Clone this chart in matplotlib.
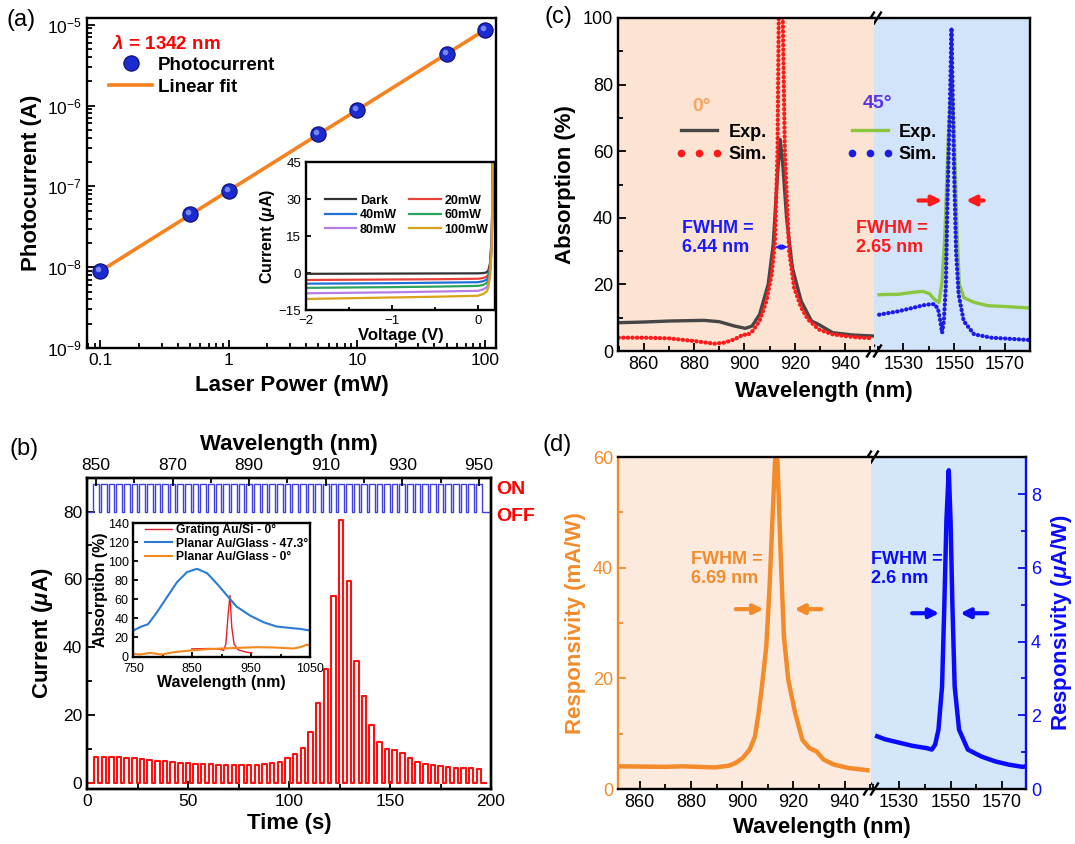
import numpy as np
import matplotlib
matplotlib.use("Agg")
import matplotlib.pyplot as plt
from matplotlib.lines import Line2D
from matplotlib.ticker import MultipleLocator, LogLocator, NullFormatter
from matplotlib.transforms import offset_copy

plt.rcParams["font.family"]=["Liberation Sans","DejaVu Sans"]
plt.rcParams["mathtext.fontset"]="custom"
plt.rcParams["mathtext.rm"]="Liberation Sans"
plt.rcParams["mathtext.it"]="Liberation Sans:italic:bold"
plt.rcParams["mathtext.bf"]="Liberation Sans:bold"
plt.rcParams["axes.linewidth"]=1.7

W,H=1075,844

# ---------------- (a) power dependence at 1342 nm ----------------
power_mw=[0.1,0.5,1,5,10,50,100]
photocurrent_a=[9.0e-9,4.5e-8,8.7e-8,4.4e-7,8.7e-7,4.4e-6,8.7e-6]

# inset I-V curves
iv_voltage=[-2.0,-1.0,-0.5,0.0,0.06,0.10,0.12,0.14,0.16,0.18]
iv_dark=[-0.3,-0.2,-0.15,-0.1,0.0,0.3,1.0,4.0,15,60]
iv_20=[-2.8,-2.6,-2.5,-2.3,-2.0,-1.5,-0.6,2.8,14,60]
iv_40=[-4.3,-4.1,-3.9,-3.7,-3.3,-2.7,-1.8,1.8,13,60]
iv_60=[-6.0,-5.7,-5.5,-5.2,-4.8,-4.1,-3.0,0.8,12,60]
iv_80=[-8.2,-7.8,-7.5,-7.2,-6.6,-5.8,-4.5,-0.5,11,60]
iv_100=[-10.5,-9.9,-9.6,-9.2,-8.5,-7.5,-6.0,-1.5,10,60]
iv_labels=["Dark","20mW","40mW","60mW","80mW","100mW"]

# ---------------- (b) wavelength scan ----------------
pulse_wl=np.arange(850,951,2)
pulse_amp=[7.7,7.7,7.7,7.6,7.4,7.2,7.0,6.8,6.6,6.4,6.2,6.0,5.8,5.7,5.6,5.5,5.4,5.3,5.3,5.3,
           5.3,5.4,5.6,5.9,6.2,7.2,8.4,10.3,15.0,23.5,33.5,55.0,77.5,59.5,36.0,25.5,17.0,12.2,10.1,9.6,
           8.8,7.2,6.2,5.7,5.2,4.9,4.6,4.5,4.4,4.3,4.2]
laser_on=88.0
laser_off=80.0
scan_t0=4.5      # time of the 850 nm step (s)
scan_rate=1.895  # s per nm

# inset absorption spectra
grating_wl=[849,880,897,903,907,911,914,917,921,928,942,951]
grating_abs=[8.0,8.4,7.7,6.3,13,45,64,31,13,7.0,4.5,3.8]
glass47_wl=[750,761,775,790,807,824,841,858,875,892,909,925,948,971,993,1016,1033,1050]
glass47_abs=[27.3,30.8,34,46.5,62.3,78,88.6,92,87.5,76.3,64,52.5,43,36,31.5,30,29,27.3]
glass0_wl=[750,761,778,798,818,846,875,914,959,988,1022,1033,1044,1050]
glass0_abs=[2.8,2.1,3.8,2.1,4.5,6.3,7.7,8.75,9.8,9.5,8.4,9.8,12.3,12.0]

# ---------------- (c) absorption ----------------
exp0_wl=[850,860,870,884,890,896,900.4,903,906,909.4,911.4,913.1,914.2,915.3,916.7,919,922.5,926.6,929.4,935,943,951]
exp0_abs=[8.5,8.7,9.0,9.2,8.8,7.5,6.8,7.5,11,20,32,53,63.5,55,40,25,15,9.0,8.0,5.5,4.8,4.5]
sim0_wl=[850,860,870,880,888,892,896,899.7,901,903.2,906,908.7,910.8,912.1,913.1,913.6,914.4,915.2,916,
         917.7,919.7,922.5,925.2,929.4,935,943,951]
sim0_abs=[4.0,4.0,3.8,3.0,2.2,2.5,3.5,5.0,4.7,6.0,9.0,15,23,33,60,100,150,100,60,30,19,13,9.5,6.5,5.0,4.2,3.8]
exp45_wl=[1520.4,1524,1527.8,1533.4,1537.5,1540.2,1542.2,1544.0,1545.2,1546.3,1547.7,1549.0,1550.0,
          1551.1,1552.0,1553.8,1557.8,1563.3,1571.5,1579.5]
exp45_abs=[16.9,17.0,17.0,17.6,17.9,17.2,15.5,14.6,21,35,65,82.4,65,35,20,16,14.6,13.6,13.3,12.9]
sim45_wl=[1520.4,1527.8,1533.4,1538.8,1542.2,1543.6,1544.5,1545.2,1545.9,1546.7,1547.3,1548.3,1548.9,
          1549.4,1549.9,1550.7,1551.7,1553.7,1557.8,1564.6,1579.5]
sim45_abs=[10.9,11.9,12.9,13.9,14.1,12.6,9.0,5.5,9.0,20,45,75,97,75,55,30,17,9.0,5.0,4.0,3.3]

# ---------------- (d) responsivity ----------------
nir_wl=[851.5,870,876.8,889.2,894.7,897.4,900.2,902.9,905,906.4,907.7,909.4,910.7,911.8,912.8,913.3,913.8,
        915,916.3,918,920.7,923.5,926.2,929,931.8,935.9,941.4,948.9]
nir_resp=[4.1,4.0,4.1,3.9,4.2,4.7,5.6,7.1,9.5,13.7,18.5,25.7,36.6,48.6,59,61,59,42.6,27.5,19.7,13.7,8.9,
          7.4,6.8,5.3,4.4,3.8,3.4]
ir_wl=[1521.5,1524.5,1529.9,1535.3,1540.7,1542.7,1544,1545.3,1546.7,1547.6,1548.4,1549.3,1550,1550.7,
       1551.6,1553.3,1556.7,1562,1567.3,1572.7,1578,1579.3]
ir_resp=[1.43,1.35,1.26,1.17,1.11,1.07,1.2,1.61,2.78,5.04,7.3,8.65,7.3,5.04,2.78,1.61,1.07,0.88,0.75,0.66,0.6,0.62]

orange="#f5821f"
resp_orange="#f38b2a"
blue="#0a0aff"


def rect(x0,y0,x1,y1):
    return [x0/W,1-y1/H,(x1-x0)/W,(y1-y0)/H]


def ticks_in(ax,size=12.5,major=6,minor=3.5):
    ax.tick_params(which="both",direction="in",labelsize=size,width=1.3)
    ax.tick_params(which="major",length=major)
    ax.tick_params(which="minor",length=minor)


def pulse_train(centers,levels,width,base,t_end):
    t=[0.0]; y=[base]
    for c,lv in zip(centers,levels):
        t+=[c-width/2,c-width/2,c+width/2,c+width/2]
        y+=[base,lv,lv,base]
    t.append(t_end); y.append(base)
    return t,y


def break_marks(fig,x,ys):
    for y in ys:
        for dx in (-3.5,3.5):
            fig.add_artist(Line2D([(x+dx-3.5)/W,(x+dx+3.5)/W],[1-(y+5.5)/H,1-(y-5.5)/H],
                                  color="black",lw=1.7,transform=fig.transFigure))


bold=dict(fontweight="bold")
fig=plt.figure(figsize=(W/100,H/100),dpi=100)

# ======================= (a) =======================
ax_a=fig.add_axes(rect(87,18,496,348))
ax_a.set_xscale("log"); ax_a.set_yscale("log")
coef=np.polyfit(np.log10(power_mw),np.log10(photocurrent_a),1)
fit_p=np.array([power_mw[0],power_mw[-1]])
ax_a.plot(fit_p,10**np.polyval(coef,np.log10(fit_p)),color=orange,lw=2.6,zorder=2)
ax_a.plot(power_mw,photocurrent_a,"o",ms=11,mfc="#1b2bd0",mec="#0c0c70",mew=0.8,zorder=3)
# small highlight so the markers read as spheres
shine=offset_copy(ax_a.transData,fig=fig,x=-2,y=2,units="dots")
ax_a.plot(power_mw,photocurrent_a,"o",ms=4,mfc="#8f9cff",mec="none",alpha=0.8,transform=shine,zorder=4)
ax_a.set_xlim(0.0785,121); ax_a.set_ylim(1e-9,1.21e-5)
ax_a.set_xticks([0.1,1,10,100],["0.1","1","10","100"])
ax_a.xaxis.set_minor_locator(LogLocator(base=10,subs=np.arange(2,10),numticks=20))
ax_a.xaxis.set_minor_formatter(NullFormatter())
ax_a.yaxis.set_major_locator(LogLocator(base=10,numticks=20))
ax_a.yaxis.set_minor_locator(LogLocator(base=10,subs=np.arange(2,10),numticks=20))
ax_a.yaxis.set_minor_formatter(NullFormatter())
ticks_in(ax_a)
ax_a.set_xlabel("Laser Power (mW)",fontsize=16,labelpad=5,**bold)
ax_a.set_ylabel("Photocurrent (A)",fontsize=16,labelpad=4,**bold)
ax_a.text(0.06,0.921,r"$\lambda$ = 1342 nm",transform=ax_a.transAxes,color="red",fontsize=13.5,va="center",**bold)
h_pts=Line2D([],[],ls="",marker="o",ms=11,mfc="#1b2bd0",mec="#0c0c70",mew=0.8)
h_fit=Line2D([],[],color=orange,lw=2.6)
ax_a.legend([h_pts,h_fit],["Photocurrent","Linear fit"],loc="upper left",bbox_to_anchor=(0.054,0.883),
            frameon=False,borderpad=0,borderaxespad=0,handlelength=2.3,handletextpad=0.3,labelspacing=0.25,
            prop={"weight":"bold","size":13.5})

ax_ai=ax_a.inset_axes([0.535,0.115,0.463,0.448])
iv_sets=[iv_dark,iv_20,iv_40,iv_60,iv_80,iv_100]
iv_colors=["#333333","#e8413a","#2170d8","#2ca25f","#b57ee6","#d8a21a"]
iv_lines=[]
for cur,col in zip(iv_sets,iv_colors):
    ln,=ax_ai.plot(iv_voltage,cur,color=col,lw=1.6)
    iv_lines.append(ln)
ax_ai.set_xlim(-2,0.2); ax_ai.set_ylim(-15,45)
ax_ai.set_xticks([-2,-1,0]); ax_ai.set_yticks([-15,0,15,30,45])
ax_ai.xaxis.set_minor_locator(MultipleLocator(0.5))
ticks_in(ax_ai,size=9.5,major=3.5,minor=2)
ax_ai.set_xlabel("Voltage (V)",fontsize=12,labelpad=1,**bold)
ax_ai.set_ylabel(r"Current ($\mu$A)",fontsize=11.5,labelpad=1,**bold)
order=[0,2,4,1,3,5]
ax_ai.legend([iv_lines[i] for i in order],[iv_labels[i] for i in order],ncol=2,loc="upper left",
             bbox_to_anchor=(0.1,0.78),frameon=False,borderpad=0,borderaxespad=0,handlelength=2.5,
             handletextpad=0.3,columnspacing=1.0,labelspacing=0.2,prop={"weight":"bold","size":9})

# ======================= (b) =======================
ax_b=fig.add_axes(rect(87,478,491,789))
pulse_t=scan_t0+(pulse_wl-850)*scan_rate
red_t,red_y=pulse_train(pulse_t,pulse_amp,2.2,0.0,197.5)
blue_t,blue_y=pulse_train(pulse_t,[laser_on]*len(pulse_t),2.8,laser_off,199.0)
ax_b.plot(red_t,red_y,color="#ff1010",lw=1.5)
ax_b.plot(blue_t,blue_y,color="#4040e0",lw=1.0)
ax_b.set_xlim(0,200); ax_b.set_ylim(-1.8,89.9)
ax_b.xaxis.set_major_locator(MultipleLocator(50)); ax_b.xaxis.set_minor_locator(MultipleLocator(25))
ax_b.yaxis.set_major_locator(MultipleLocator(20)); ax_b.yaxis.set_minor_locator(MultipleLocator(10))
ticks_in(ax_b)
ax_b.set_xlabel("Time (s)",fontsize=16,labelpad=3,**bold)
ax_b.set_ylabel(r"Current ($\mu$A)",fontsize=16,labelpad=6,**bold)
ax_b.text(1.012,86.5,"ON",transform=ax_b.get_yaxis_transform(),color="red",fontsize=14,va="center",**bold)
ax_b.text(1.012,78.5,"OFF",transform=ax_b.get_yaxis_transform(),color="red",fontsize=14,va="center",**bold)

ax_bt=ax_b.twiny()
ax_bt.set_xlim(850-scan_t0/scan_rate,850+(200-scan_t0)/scan_rate)
ax_bt.xaxis.set_minor_locator(MultipleLocator(10))
ax_bt.set_xticks(np.arange(850,951,20))
ticks_in(ax_bt)
ax_bt.tick_params(which="both",top=True,bottom=False)
ax_bt.set_xlabel("Wavelength (nm)",fontsize=16,labelpad=6,**bold)

ax_bi=ax_b.inset_axes([0.115,0.426,0.437,0.429])
l1,=ax_bi.plot(grating_wl,grating_abs,color="#e8202a",lw=1.0)
l2,=ax_bi.plot(glass47_wl,glass47_abs,color="#2b7bd6",lw=1.5)
l3,=ax_bi.plot(glass0_wl,glass0_abs,color="#f5871f",lw=1.5)
ax_bi.set_xlim(750,1050); ax_bi.set_ylim(0,140)
ax_bi.set_xticks([750,850,950,1050]); ax_bi.xaxis.set_minor_locator(MultipleLocator(50))
ax_bi.yaxis.set_major_locator(MultipleLocator(20))
ticks_in(ax_bi,size=9,major=3.5,minor=2)
ax_bi.tick_params(axis="x",pad=5)
ax_bi.set_xlabel("Wavelength (nm)",fontsize=11.5,labelpad=0,**bold)
ax_bi.set_ylabel("Absorption (%)",fontsize=11.5,labelpad=0,**bold)
ax_bi.legend([l1,l2,l3],["Grating Au/Si - 0°","Planar Au/Glass - 47.3°","Planar Au/Glass - 0°"],
             loc="upper left",bbox_to_anchor=(0.065,0.99),frameon=False,borderpad=0,borderaxespad=0,
             handlelength=2.2,handletextpad=0.35,labelspacing=0.1,prop={"weight":"bold","size":8.7})

# ======================= (c) =======================
ax_c1=fig.add_axes(rect(618,18,874,351))
ax_c2=fig.add_axes(rect(874,18,1030,351))
ax_c1.set_zorder(3)
ax_c1.set_facecolor("#fce3d2"); ax_c2.set_facecolor("#d1e4f9")
dots=dict(ls=(0,(0.1,1.0)),lw=3.0,dash_capstyle="round")
ax_c1.plot(exp0_wl,exp0_abs,color="#464646",lw=2.4)
ax_c1.plot(sim0_wl,sim0_abs,color="#ff1a1a",**dots)
ax_c2.plot(exp45_wl,exp45_abs,color="#8cc63e",lw=2.4)
ax_c2.plot(sim45_wl,sim45_abs,color="#1c1ce6",**dots)
ax_c1.set_xlim(849.8,951.4); ax_c2.set_xlim(1518.4,1579.8)
for ax in (ax_c1,ax_c2):
    ax.set_ylim(0,100)
    ax.yaxis.set_major_locator(MultipleLocator(20)); ax.yaxis.set_minor_locator(MultipleLocator(10))
    ax.xaxis.set_minor_locator(MultipleLocator(10))
    ticks_in(ax,size=13)
ax_c1.set_xticks([860,880,900,920,940]); ax_c2.set_xticks([1530,1550,1570])
ax_c1.spines["right"].set_visible(False); ax_c2.spines["left"].set_visible(False)
ax_c2.tick_params(which="both",left=False,labelleft=False)
ax_c1.set_ylabel("Absorption (%)",fontsize=16,labelpad=5,**bold)
fig.text(824/W,1-392/H,"Wavelength (nm)",fontsize=16,ha="center",va="center",**bold)
ax_c1.text(883,73.4,"0°",color="#f7a45e",fontsize=14,ha="center",va="center",**bold)
ax_c1.text(953,74.4,"45°",color="#5b34e8",fontsize=14,ha="center",va="center",**bold)
leg_kw=dict(loc="upper left",frameon=False,borderpad=0,borderaxespad=0,handlelength=2.6,
            handletextpad=0.3,labelspacing=0.3,numpoints=3,prop={"weight":"bold","size":13})
lg1=ax_c1.legend([Line2D([],[],color="#464646",lw=2.4),
                  Line2D([],[],ls="",marker="o",ms=4.5,color="#ff1a1a")],["Exp.","Sim."],
                 bbox_to_anchor=(872.8,68.3),bbox_transform=ax_c1.transData,**leg_kw)
ax_c1.add_artist(lg1)
ax_c1.legend([Line2D([],[],color="#8cc63e",lw=2.4),
              Line2D([],[],ls="",marker="o",ms=4.5,color="#1c1ce6")],["Exp.","Sim."],
             bbox_to_anchor=(940.4,68.3),bbox_transform=ax_c1.transData,**leg_kw)
ax_c1.text(875.2,33.8,"FWHM =\n6.44 nm",color="#1a1aff",fontsize=13,va="center",linespacing=1.15,**bold)
ax_c1.text(944.1,33.8,"FWHM =\n2.65 nm",color="#ff1a1a",fontsize=13,va="center",linespacing=1.15,**bold)
ax_c1.annotate("",xy=(911,31.2),xytext=(918.3,31.2),
               arrowprops=dict(arrowstyle="<|-|>",color="#1a1aff",lw=1.2,mutation_scale=7))
ax_c2.annotate("",xy=(1546.3,45.2),xytext=(1534.8,45.2),
               arrowprops=dict(arrowstyle="-|>",color="#ff1a1a",lw=3,mutation_scale=14))
ax_c2.annotate("",xy=(1553.5,45.2),xytext=(1562.6,45.2),
               arrowprops=dict(arrowstyle="-|>",color="#ff1a1a",lw=3,mutation_scale=14))
break_marks(fig,874,[18,351])

# ======================= (d) =======================
ax_d1=fig.add_axes(rect(618,457,871,789))
ax_d2=fig.add_axes(rect(871,457,1026,789))
ax_d1.set_zorder(3)
ax_d1.set_facecolor("#fdeade"); ax_d2.set_facecolor("#d3e6fa")
ax_d1.plot(nir_wl,nir_resp,color=resp_orange,lw=3.2)
ax_d2.plot(ir_wl,ir_resp,color=blue,lw=3.2)
ax_d1.set_xlim(851.5,950.3); ax_d2.set_xlim(1519.1,1579.3)
ax_d1.set_ylim(0,60); ax_d2.set_ylim(0,9.01)
ax_d1.set_xticks([860,880,900,920,940]); ax_d1.xaxis.set_minor_locator(MultipleLocator(10))
ax_d2.set_xticks([1530,1550,1570]); ax_d2.xaxis.set_minor_locator(MultipleLocator(10))
ax_d1.yaxis.set_major_locator(MultipleLocator(20)); ax_d1.yaxis.set_minor_locator(MultipleLocator(10))
ax_d2.yaxis.set_major_locator(MultipleLocator(2)); ax_d2.yaxis.set_minor_locator(MultipleLocator(1))
ticks_in(ax_d1,size=13); ticks_in(ax_d2,size=13)
ax_d2.yaxis.tick_right(); ax_d2.yaxis.set_label_position("right")
ax_d2.tick_params(which="both",left=False,right=True)
ax_d1.spines["right"].set_visible(False); ax_d2.spines["left"].set_visible(False)
ax_d1.spines["left"].set_color(resp_orange); ax_d2.spines["right"].set_color(blue)
ax_d1.tick_params(axis="y",which="both",colors=resp_orange)
ax_d2.tick_params(axis="y",which="both",colors=blue)
ax_d1.set_ylabel("Responsivity (mA/W)",fontsize=16,color=resp_orange,labelpad=5,**bold)
ax_d2.set_ylabel(r"Responsivity ($\mu$A/W)",fontsize=16,color=blue,labelpad=6,**bold)
fig.text(822/W,1-828/H,"Wavelength (nm)",fontsize=16,ha="center",va="center",**bold)
ax_d1.text(880.2,39.7,"FWHM =\n6.69 nm",color=resp_orange,fontsize=13,va="center",linespacing=1.15,**bold)
ax_d1.text(950.3,39.7,"FWHM =\n2.6 nm",color=blue,fontsize=13,va="center",linespacing=1.15,**bold)
ax_d1.annotate("",xy=(909.4,32.5),xytext=(896.4,32.5),
               arrowprops=dict(arrowstyle="-|>",color=resp_orange,lw=3,mutation_scale=14))
ax_d1.annotate("",xy=(919.3,32.5),xytext=(932,32.5),
               arrowprops=dict(arrowstyle="-|>",color=resp_orange,lw=3,mutation_scale=14))
ax_d2.annotate("",xy=(1546.7,4.77),xytext=(1534,4.77),
               arrowprops=dict(arrowstyle="-|>",color=blue,lw=3,mutation_scale=14))
ax_d2.annotate("",xy=(1552.7,4.77),xytext=(1565.3,4.77),
               arrowprops=dict(arrowstyle="-|>",color=blue,lw=3,mutation_scale=14))
break_marks(fig,871,[457,789])

# panel labels
for lab,x,y in [("(a)",21,20),("(b)",24,449),("(c)",558,17),("(d)",557,445)]:
    fig.text(x/W,1-y/H,lab,fontsize=17,ha="center",va="center")

fig.savefig("out.png",dpi=100)
